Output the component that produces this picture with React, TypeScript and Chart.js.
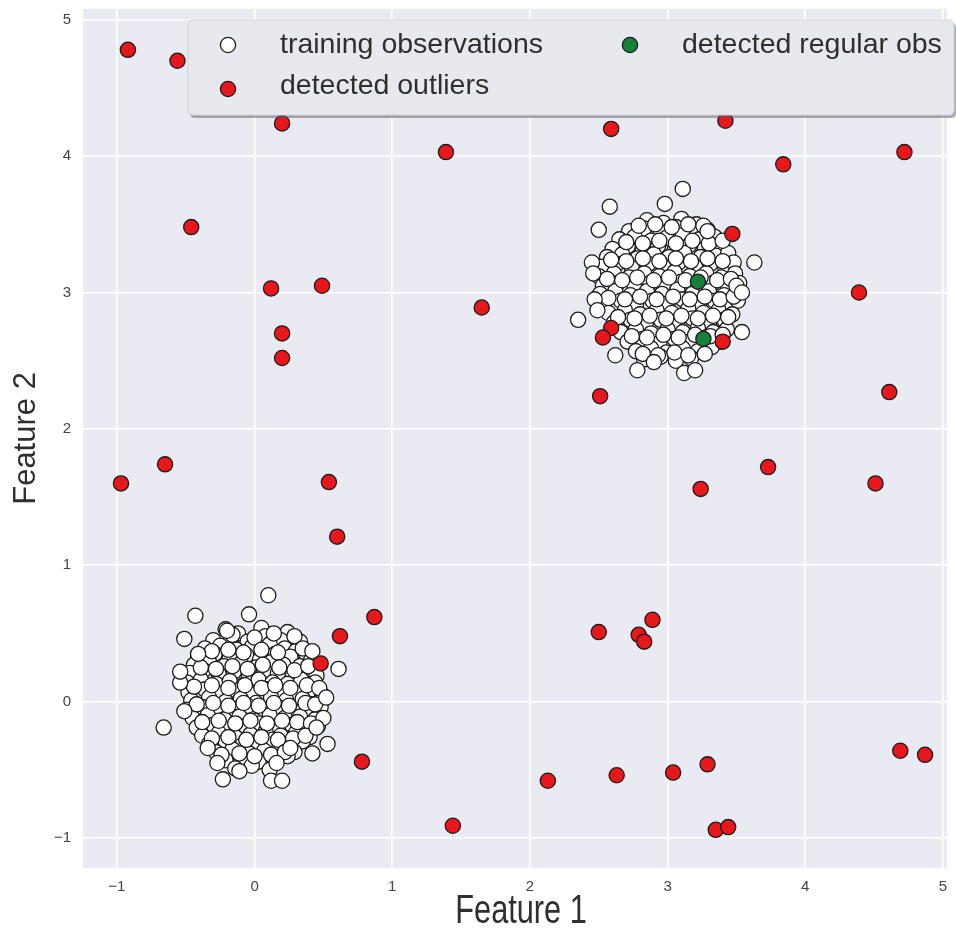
import React, { useEffect, useRef } from 'react';
import { Chart, registerables } from 'chart.js';

Chart.register(...registerables);

// ---------- data ----------
const X_TICKS = [-1, 0, 1, 2, 3, 4, 5];
const Y_TICKS = [-1, 0, 1, 2, 3, 4, 5];
const X_RANGE = [-1.246, 5.03];
const Y_RANGE = [-1.22, 5.08];

const AXIS_X_TITLE = 'Feature 1';
const AXIS_Y_TITLE = 'Feature 2';

const LABEL_TRAIN = 'training observations';
const LABEL_OUTLIERS = 'detected outliers';
const LABEL_REGULAR = 'detected regular obs';

// cluster around (0, 0)
const trainingClusterA: [number, number][] = [
  [-0.21, 0.53], [-0.12, 0.5], [0.05, 0.54], [0.24, 0.51],
  [-0.3, 0.45], [-0.17, 0.47], [-0.05, 0.44], [0.08, 0.48], [0.19, 0.45], [0.33, 0.44],
  [-0.36, 0.39], [-0.25, 0.41], [-0.13, 0.38], [-0.02, 0.4], [0.11, 0.42], [0.22, 0.39], [0.3, 0.37],
  [-0.41, 0.33], [-0.29, 0.35], [-0.18, 0.32], [-0.06, 0.34], [0.04, 0.31], [0.15, 0.35], [0.26, 0.33], [0.37, 0.36],
  [-0.44, 0.27], [-0.33, 0.29], [-0.22, 0.26], [-0.1, 0.28], [0.01, 0.25], [0.12, 0.29], [0.21, 0.27], [0.33, 0.26], [0.41, 0.3],
  [-0.47, 0.21], [-0.37, 0.23], [-0.26, 0.2], [-0.15, 0.22], [-0.04, 0.19], [0.07, 0.23], [0.17, 0.21], [0.28, 0.2], [0.38, 0.22], [0.45, 0.19],
  [-0.49, 0.14], [-0.39, 0.16], [-0.28, 0.13], [-0.18, 0.15], [-0.08, 0.12], [0.03, 0.16], [0.13, 0.14], [0.24, 0.13], [0.34, 0.16], [0.44, 0.14],
  [-0.48, 0.07], [-0.36, 0.09], [-0.24, 0.06], [-0.13, 0.08], [-0.02, 0.05], [0.09, 0.09], [0.2, 0.07], [0.31, 0.06], [0.42, 0.09], [0.49, 0.05],
  [-0.46, 0.01], [-0.33, 0.03], [-0.21, 0.0], [-0.1, 0.02], [0.01, -0.01], [0.12, 0.03], [0.23, 0.01], [0.35, 0.02], [0.46, -0.01],
  [-0.49, -0.06], [-0.38, -0.04], [-0.27, -0.07], [-0.16, -0.05], [-0.05, -0.03], [0.06, -0.06], [0.17, -0.04], [0.28, -0.07], [0.39, -0.05], [0.48, -0.04],
  [-0.45, -0.12], [-0.34, -0.1], [-0.22, -0.13], [-0.11, -0.11], [0.0, -0.14], [0.11, -0.1], [0.22, -0.12], [0.33, -0.11], [0.44, -0.13],
  [-0.42, -0.19], [-0.3, -0.17], [-0.19, -0.2], [-0.07, -0.18], [0.04, -0.16], [0.15, -0.19], [0.27, -0.17], [0.38, -0.2], [0.46, -0.18],
  [-0.38, -0.25], [-0.26, -0.23], [-0.14, -0.26], [-0.03, -0.24], [0.08, -0.22], [0.19, -0.25], [0.3, -0.23], [0.4, -0.26],
  [-0.33, -0.31], [-0.21, -0.29], [-0.09, -0.32], [0.02, -0.3], [0.13, -0.28], [0.24, -0.31], [0.35, -0.29],
  [-0.28, -0.37], [-0.16, -0.35], [-0.04, -0.38], [0.07, -0.36], [0.18, -0.34], [0.29, -0.37],
  [-0.21, -0.43], [-0.1, -0.41], [0.03, -0.44], [0.15, -0.42], [0.24, -0.4],
  [-0.14, -0.49], [-0.02, -0.47], [0.11, -0.5],
  // interleaved
  [-0.16, 0.49], [0.0, 0.47], [0.14, 0.5], [0.29, 0.48],
  [-0.31, 0.37], [-0.19, 0.38], [-0.08, 0.36], [0.05, 0.38], [0.17, 0.36], [0.35, 0.39],
  [-0.39, 0.25], [-0.28, 0.24], [-0.16, 0.26], [-0.05, 0.24], [0.06, 0.27], [0.18, 0.25], [0.29, 0.23], [0.39, 0.26],
  [-0.44, 0.11], [-0.31, 0.12], [-0.19, 0.1], [-0.07, 0.12], [0.05, 0.1], [0.15, 0.12], [0.26, 0.1], [0.38, 0.12], [0.47, 0.1],
  [-0.42, -0.02], [-0.3, -0.01], [-0.19, -0.03], [-0.08, -0.01], [0.03, -0.03], [0.14, -0.01], [0.25, -0.03], [0.37, -0.01], [0.44, -0.02],
  [-0.38, -0.15], [-0.26, -0.14], [-0.14, -0.16], [-0.03, -0.14], [0.09, -0.16], [0.2, -0.14], [0.31, -0.15], [0.41, -0.16],
  [-0.31, -0.27], [-0.19, -0.26], [-0.06, -0.28], [0.05, -0.26], [0.17, -0.28], [0.28, -0.27], [0.37, -0.25],
  [-0.24, -0.39], [-0.11, -0.38], [0.0, -0.4], [0.12, -0.39], [0.22, -0.37],
  // stragglers
  [0.1, 0.78], [-0.43, 0.63], [-0.04, 0.64], [-0.51, 0.46], [0.61, 0.24], [-0.66, -0.19],
  [0.53, -0.31], [0.42, -0.38], [-0.23, -0.57], [0.12, -0.58], [0.2, -0.58], [-0.27, -0.45],
  [-0.11, -0.51], [0.16, -0.45], [-0.2, 0.52], [-0.54, 0.14], [-0.54, 0.22], [-0.51, -0.07],
  [0.52, 0.03], [0.5, -0.12], [0.45, -0.19], [0.42, 0.37], [-0.41, 0.35], [-0.34, -0.34], [0.26, -0.34],
];

// cluster around (3, 3)
const trainingClusterB: [number, number][] = [
  [2.85, 3.53], [2.97, 3.51], [3.1, 3.54], [3.21, 3.5],
  [2.72, 3.45], [2.83, 3.47], [2.95, 3.44], [3.06, 3.48], [3.17, 3.45], [3.29, 3.46],
  [2.65, 3.39], [2.76, 3.41], [2.88, 3.38], [2.99, 3.4], [3.11, 3.42], [3.23, 3.39], [3.34, 3.41],
  [2.6, 3.32], [2.71, 3.34], [2.82, 3.31], [2.93, 3.34], [3.05, 3.31], [3.16, 3.35], [3.27, 3.32], [3.38, 3.34],
  [2.56, 3.26], [2.67, 3.28], [2.78, 3.25], [2.9, 3.28], [3.01, 3.26], [3.12, 3.29], [3.24, 3.26], [3.35, 3.27], [3.44, 3.29],
  [2.52, 3.19], [2.63, 3.21], [2.74, 3.18], [2.86, 3.21], [2.97, 3.19], [3.08, 3.22], [3.2, 3.19], [3.31, 3.21], [3.42, 3.18], [3.48, 3.22],
  [2.5, 3.12], [2.61, 3.14], [2.72, 3.11], [2.83, 3.14], [2.94, 3.12], [3.05, 3.15], [3.16, 3.12], [3.28, 3.14], [3.39, 3.11], [3.49, 3.14],
  [2.53, 3.05], [2.64, 3.07], [2.76, 3.04], [2.87, 3.07], [2.98, 3.05], [3.1, 3.08], [3.21, 3.05], [3.33, 3.07], [3.44, 3.04], [3.52, 3.07],
  [2.51, 2.99], [2.62, 3.01], [2.73, 2.98], [2.85, 3.01], [2.96, 2.99], [3.07, 3.02], [3.18, 2.99], [3.3, 3.01], [3.41, 2.98], [3.53, 3.0],
  [2.54, 2.92], [2.66, 2.94], [2.77, 2.91], [2.89, 2.94], [3.0, 2.92], [3.11, 2.95], [3.23, 2.92], [3.34, 2.94], [3.45, 2.91], [3.51, 2.94],
  [2.57, 2.85], [2.69, 2.87], [2.8, 2.84], [2.92, 2.87], [3.03, 2.85], [3.15, 2.88], [3.26, 2.85], [3.37, 2.87], [3.47, 2.84],
  [2.61, 2.78], [2.73, 2.8], [2.84, 2.77], [2.95, 2.8], [3.07, 2.78], [3.18, 2.81], [3.3, 2.78], [3.41, 2.8],
  [2.66, 2.71], [2.77, 2.73], [2.88, 2.7], [3.0, 2.73], [3.11, 2.71], [3.22, 2.74], [3.33, 2.71], [3.43, 2.73],
  [2.71, 2.64], [2.82, 2.66], [2.94, 2.63], [3.05, 2.66], [3.16, 2.64], [3.28, 2.67], [3.38, 2.64],
  [2.77, 2.57], [2.88, 2.59], [2.99, 2.56], [3.11, 2.59], [3.22, 2.57], [3.32, 2.6],
  [2.83, 2.51], [2.95, 2.53], [3.06, 2.5], [3.17, 2.52],
  // interleaved
  [2.79, 3.49], [2.91, 3.5], [3.03, 3.48], [3.15, 3.5], [3.26, 3.49],
  [2.7, 3.37], [2.82, 3.36], [2.94, 3.38], [3.06, 3.36], [3.18, 3.38], [3.3, 3.36], [3.4, 3.38],
  [2.59, 3.24], [2.7, 3.23], [2.82, 3.25], [2.94, 3.23], [3.06, 3.25], [3.17, 3.23], [3.29, 3.25], [3.4, 3.23],
  [2.56, 3.1], [2.67, 3.09], [2.78, 3.11], [2.9, 3.09], [3.01, 3.11], [3.13, 3.09], [3.24, 3.11], [3.36, 3.09], [3.46, 3.1],
  [2.57, 2.96], [2.69, 2.95], [2.8, 2.97], [2.92, 2.95], [3.04, 2.97], [3.16, 2.95], [3.27, 2.97], [3.38, 2.95], [3.48, 2.97],
  [2.64, 2.82], [2.76, 2.81], [2.87, 2.83], [2.99, 2.81], [3.1, 2.83], [3.22, 2.81], [3.33, 2.83], [3.44, 2.82],
  [2.74, 2.68], [2.85, 2.67], [2.97, 2.69], [3.08, 2.67], [3.2, 2.69], [3.31, 2.68], [3.4, 2.69],
  [2.82, 2.55], [2.93, 2.54], [3.05, 2.56], [3.15, 2.54], [3.27, 2.55],
  // stragglers
  [3.11, 3.76], [2.58, 3.63], [2.98, 3.65], [2.5, 3.46], [3.63, 3.22], [2.35, 2.8], [3.54, 2.71],
  [2.78, 2.43], [3.12, 2.41], [3.2, 2.43], [2.9, 2.49], [2.45, 3.22], [2.46, 3.14], [3.5, 3.05],
  [3.54, 3.0], [2.62, 2.54], [3.29, 3.45], [2.47, 2.95], [2.49, 2.87],
];

const trainingObs: [number, number][] = [...trainingClusterA, ...trainingClusterB];

const detectedOutliers: [number, number][] = [
  [-0.92, 4.78], [-0.56, 4.7], [-0.46, 3.48], [0.2, 4.24], [1.39, 4.03], [2.59, 4.2],
  [3.42, 4.26], [3.84, 3.94], [4.72, 4.03], [0.12, 3.03], [0.49, 3.05], [0.2, 2.7],
  [0.2, 2.52], [1.65, 2.89], [3.47, 3.43], [2.59, 2.74], [2.53, 2.67], [3.4, 2.64],
  [4.39, 3.0], [4.61, 2.27], [2.51, 2.24], [-0.97, 1.6], [-0.65, 1.74], [0.54, 1.61],
  [0.6, 1.21], [3.73, 1.72], [3.24, 1.56], [4.51, 1.6], [0.87, 0.62], [0.62, 0.48],
  [0.48, 0.28], [2.5, 0.51], [2.79, 0.49], [2.83, 0.44], [2.89, 0.6], [0.78, -0.44],
  [2.13, -0.58], [2.63, -0.54], [3.04, -0.52], [3.29, -0.46], [1.44, -0.91], [3.35, -0.94],
  [3.44, -0.92], [4.69, -0.36], [4.87, -0.39],
];

const detectedRegular: [number, number][] = [
  [3.22, 3.08], [3.26, 2.66],
];

// ---------- styling ----------
const BG = '#EAEAF2';
const COLOR_TRAIN = '#ffffff';
const COLOR_OUTLIER = '#e8171c';
const COLOR_REGULAR = '#17813b';
const EDGE = '#1c1c1c';
const TEXT = '#2f2f2f';
const SANS = "'Liberation Sans', Arial, sans-serif";

const fmtTick = (v: number) => (v < 0 ? '\u2212' + Math.abs(v) : String(v));

const bgPlugin = {
  id: 'axesBackground',
  beforeDraw(chart: any) {
    const { ctx, chartArea } = chart;
    ctx.save();
    ctx.fillStyle = '#ffffff';
    ctx.fillRect(0, 0, chart.width, chart.height);
    ctx.fillStyle = BG;
    ctx.fillRect(chartArea.left, chartArea.top, chartArea.right - chartArea.left, chartArea.bottom - chartArea.top);
    ctx.restore();
  },
};

// x-axis title: drawn horizontally condensed, as in the reference
const xTitlePlugin = {
  id: 'xTitle',
  afterDraw(chart: any) {
    const { ctx, chartArea } = chart;
    const cx = (chartArea.left + chartArea.right) / 2 + 6;
    ctx.save();
    ctx.translate(cx, 923);
    ctx.scale(0.75, 1);
    ctx.font = `41px ${SANS}`;
    ctx.fillStyle = TEXT;
    ctx.textAlign = 'center';
    ctx.textBaseline = 'alphabetic';
    ctx.fillText(AXIS_X_TITLE, 0, 0);
    ctx.restore();
  },
};

function roundRectPath(ctx: CanvasRenderingContext2D, x: number, y: number, w: number, h: number, r: number) {
  ctx.beginPath();
  ctx.moveTo(x + r, y);
  ctx.lineTo(x + w - r, y);
  ctx.quadraticCurveTo(x + w, y, x + w, y + r);
  ctx.lineTo(x + w, y + h - r);
  ctx.quadraticCurveTo(x + w, y + h, x + w - r, y + h);
  ctx.lineTo(x + r, y + h);
  ctx.quadraticCurveTo(x, y + h, x, y + h - r);
  ctx.lineTo(x, y + r);
  ctx.quadraticCurveTo(x, y, x + r, y);
  ctx.closePath();
}

const insetLegend = {
  id: 'insetLegend',
  afterDatasetsDraw(chart: any) {
    const { ctx } = chart;
    const bx = 188, by = 20, bw = 766, bh = 95;
    ctx.save();
    roundRectPath(ctx, bx + 2, by + 3, bw, bh, 5);
    ctx.fillStyle = 'rgba(90,90,100,0.5)';
    ctx.fill();
    roundRectPath(ctx, bx, by, bw, bh, 5);
    ctx.fillStyle = '#E8E8EF';
    ctx.fill();
    ctx.strokeStyle = '#d2d2d8';
    ctx.lineWidth = 1;
    ctx.stroke();

    const entries = [
      { ds: 0, mx: 228, my: 45, tx: 280, ty: 53 },
      { ds: 1, mx: 228, my: 89, tx: 280, ty: 94 },
      { ds: 2, mx: 630, my: 45, tx: 682, ty: 53 },
    ];
    ctx.font = `28.5px ${SANS}`;
    ctx.textBaseline = 'alphabetic';
    ctx.textAlign = 'left';
    for (const e of entries) {
      const d = chart.data.datasets[e.ds];
      ctx.beginPath();
      ctx.arc(e.mx, e.my, 7.6, 0, Math.PI * 2);
      ctx.fillStyle = d.backgroundColor;
      ctx.fill();
      ctx.lineWidth = 1.3;
      ctx.strokeStyle = EDGE;
      ctx.stroke();
      ctx.fillStyle = TEXT;
      ctx.fillText(d.label, e.tx, e.ty);
    }
    ctx.restore();
  },
};

const toPts = (arr: [number, number][]) => arr.map(([x, y]) => ({ x, y }));

export default function App() {
  const ref = useRef<HTMLCanvasElement | null>(null);

  useEffect(() => {
    if (!ref.current) return;
    const chart = new Chart(ref.current, {
      type: 'scatter',
      data: {
        datasets: [
          {
            label: LABEL_TRAIN,
            data: toPts(trainingObs),
            backgroundColor: COLOR_TRAIN,
            borderColor: EDGE,
            borderWidth: 1.3,
            pointRadius: 7.6,
            order: 3,
          },
          {
            label: LABEL_OUTLIERS,
            data: toPts(detectedOutliers),
            backgroundColor: COLOR_OUTLIER,
            borderColor: EDGE,
            borderWidth: 1.3,
            pointRadius: 7.6,
            order: 2,
          },
          {
            label: LABEL_REGULAR,
            data: toPts(detectedRegular),
            backgroundColor: COLOR_REGULAR,
            borderColor: EDGE,
            borderWidth: 1.3,
            pointRadius: 7.6,
            order: 1,
          },
        ],
      },
      options: {
        responsive: false,
        animation: false,
        events: [],
        layout: { padding: { top: 5, right: 5, left: 0, bottom: 0 } },
        plugins: { legend: { display: false }, tooltip: { enabled: false } },
        scales: {
          x: {
            type: 'linear',
            min: X_RANGE[0],
            max: X_RANGE[1],
            afterFit: (s: any) => { s.height = 60; s.paddingLeft = 0; s.paddingRight = 0; },
            afterBuildTicks: (s: any) => { s.ticks = X_TICKS.map((v) => ({ value: v })); },
            grid: { color: '#ffffff', lineWidth: 1.6, drawTicks: false },
            border: { display: false },
            ticks: {
              padding: 10,
              color: '#444',
              font: { family: SANS, size: 15 },
              callback: (v: any) => fmtTick(Number(v)),
            },
            title: { display: false, text: AXIS_X_TITLE },
          },
          y: {
            type: 'linear',
            min: Y_RANGE[0],
            max: Y_RANGE[1],
            afterFit: (s: any) => { s.width = 83; s.paddingTop = 0; s.paddingBottom = 0; },
            afterBuildTicks: (s: any) => { s.ticks = Y_TICKS.map((v) => ({ value: v })); },
            grid: { color: '#ffffff', lineWidth: 1.6, drawTicks: false },
            border: { display: false },
            ticks: {
              padding: 12,
              color: '#444',
              font: { family: SANS, size: 15 },
              callback: (v: any) => fmtTick(Number(v)),
            },
            title: {
              display: true,
              text: AXIS_Y_TITLE,
              color: TEXT,
              font: { family: SANS, size: 31, lineHeight: 1 },
              padding: { top: 11, bottom: 0 },
            },
          },
        },
      },
      plugins: [bgPlugin, insetLegend, xTitlePlugin],
    } as any);
    return () => chart.destroy();
  }, []);

  return (
    <div style={{ position: 'absolute', left: 0, top: 0, width: 956, height: 928 }}>
      <canvas ref={ref} width={956} height={928} style={{ display: 'block', width: 956, height: 928 }} />
    </div>
  );
}
